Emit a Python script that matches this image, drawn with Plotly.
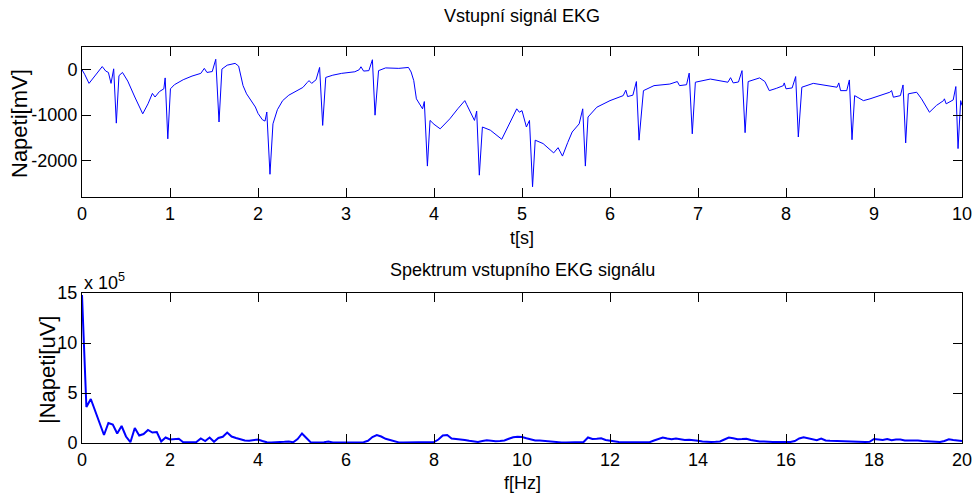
import plotly.graph_objects as go

# ---------------- data ----------------
ekg_t = [0.00, 0.03, 0.08, 0.12, 0.18, 0.23, 0.27, 0.30, 0.33, 0.36, 0.39, 0.42, 0.46, 0.52, 0.60,
         0.69, 0.75, 0.80, 0.83, 0.88, 0.93, 0.945, 0.975, 1.005, 1.05, 1.15, 1.25, 1.35, 1.39, 1.42,
         1.48, 1.52, 1.557, 1.59, 1.65, 1.74, 1.78, 1.83, 1.87, 1.93, 1.97, 2.00, 2.05, 2.08, 2.10,
         2.136, 2.17, 2.22, 2.28, 2.35, 2.45, 2.51, 2.56, 2.58, 2.61, 2.66, 2.70, 2.735, 2.77, 2.85,
         2.95, 3.10, 3.15, 3.17, 3.20, 3.26, 3.30, 3.33, 3.37, 3.45, 3.60, 3.71, 3.74, 3.77, 3.80,
         3.86, 3.87, 3.89, 3.925, 3.955, 4.00, 4.07, 4.18, 4.27, 4.35, 4.37, 4.46, 4.485, 4.515, 4.55,
         4.64, 4.77, 4.85, 4.94, 4.97, 5.00, 5.05, 5.085, 5.12, 5.15, 5.24, 5.36, 5.41, 5.46, 5.52,
         5.57, 5.65, 5.69, 5.72, 5.75, 5.85, 6.00, 6.15, 6.18, 6.20, 6.26, 6.30, 6.33, 6.38, 6.50,
         6.68, 6.765, 6.79, 6.87, 6.90, 6.935, 6.97, 7.14, 7.34, 7.37, 7.40, 7.46, 7.50, 7.535, 7.57,
         7.70, 7.76, 7.81, 7.89, 7.97, 7.98, 8.00, 8.07, 8.11, 8.14, 8.18, 8.31, 8.58, 8.60, 8.62,
         8.69, 8.72, 8.75, 8.78, 8.88, 8.955, 9.18, 9.20, 9.22, 9.30, 9.33, 9.36, 9.39, 9.485, 9.54,
         9.63, 9.71, 9.79, 9.80, 9.82, 9.90, 9.93, 9.955, 9.985, 10.0]
ekg_mv = [0, -100, -300, -200, -60, 70, -30, -60, -300, 20, -1175, -130, -60, -250, -600,
          -970, -750, -520, -600, -480, -420, -180, -1520, -420, -330, -220, -140, -80, 30, -60,
          -40, 230, -1150, 15, 100, 140, 80, -350, -530, -700, -820, -960, -1100, -1130, -930,
          -2300, -1190, -880, -680, -560, -450, -390, -280, -240, -300, -220, 50, -1225, -170, -120,
          -80, -45, 0, 65, -30, -20, 220, -1000, -20, 40, 30, 50, -50, -240, -640,
          -825, -860, -700, -2120, -1115, -1200, -1300, -1080, -860, -680, -760, -1115, -910, -2320, -1260,
          -1330, -1530, -1200, -860, -935, -900, -1260, -1115, -2575, -1550, -1625, -1830, -1715, -1900, -1600,
          -1370, -1190, -860, -2120, -1040, -825, -680, -570, -450, -590, -560, -260, -1550, -460, -350,
          -315, -260, -350, -330, -75, -1410, -275, -205, -275, -175, -290, -270, -20, -1385, -260,
          -180, -260, -460, -410, -350, -290, -420, -400, -150, -1480, -385, -300, -385, -290, -460,
          -460, -225, -1540, -570, -680, -640, -495, -460, -605, -570, -335, -1610, -530, -495, -640,
          -935, -785, -680, -640, -750, -665, -370, -1735, -680, -785]

# spectrum sampled every 0.1 Hz, 0 .. 20 Hz, in units of 1e5 uV
spec_1e5 = [
    14.8, 3.6, 4.4, 3.2, 2.1, 0.8, 2.0, 1.85, 0.95, 1.7,      # 0.0-0.9
    0.65, 0.08, 1.5, 0.75, 0.9, 1.3, 1.05, 1.1, 0.15, 0.55,   # 1.0-1.9
    0.35, 0.35, 0.42, 0.08, 0.1, 0.15, 0.1, 0.45, 0.2, 0.55,  # 2.0-2.9
    0.12, 0.5, 0.62, 1.05, 0.65, 0.5, 0.35, 0.25, 0.22, 0.25, # 3.0-3.9
    0.35, 0.2, 0.07, 0.06, 0.1, 0.15, 0.12, 0.15, 0.07, 0.4,  # 4.0-4.9
    0.95, 0.5, 0.06, 0.05, 0.05, 0.08, 0.15, 0.05, 0.05, 0.05,# 5.0-5.9
    0.06, 0.05, 0.05, 0.05, 0.08, 0.22, 0.6, 0.8, 0.65, 0.42, # 6.0-6.9
    0.3, 0.12, 0.06, 0.05, 0.05, 0.05, 0.06, 0.05, 0.06, 0.07,# 7.0-7.9
    0.1, 0.35, 0.75, 0.8, 0.45, 0.4, 0.37, 0.3, 0.22, 0.15,   # 8.0-8.9
    0.1, 0.2, 0.27, 0.22, 0.17, 0.2, 0.25, 0.42, 0.58, 0.63,  # 9.0-9.9
    0.6, 0.47, 0.35, 0.25, 0.24, 0.2, 0.12, 0.08, 0.07, 0.06, # 10.0-10.9
    0.06, 0.06, 0.07, 0.12, 0.1, 0.55, 0.4, 0.42, 0.47, 0.3,  # 11.0-11.9
    0.22, 0.17, 0.1, 0.08, 0.07, 0.06, 0.06, 0.07, 0.07, 0.08,# 12.0-12.9
    0.25, 0.42, 0.55, 0.45, 0.37, 0.45, 0.4, 0.3, 0.33, 0.3,  # 13.0-13.9
    0.23, 0.15, 0.1, 0.1, 0.12, 0.15, 0.35, 0.55, 0.47, 0.38, # 14.0-14.9
    0.4, 0.43, 0.3, 0.2, 0.15, 0.14, 0.1, 0.1, 0.1, 0.1,      # 15.0-15.9
    0.1, 0.1, 0.2, 0.45, 0.57, 0.48, 0.4, 0.28, 0.45, 0.25,   # 16.0-16.9
    0.22, 0.2, 0.2, 0.15, 0.12, 0.1, 0.1, 0.1, 0.1, 0.12,     # 17.0-17.9
    0.4, 0.35, 0.3, 0.4, 0.28, 0.35, 0.35, 0.25, 0.27, 0.25,  # 18.0-18.9
    0.25, 0.2, 0.18, 0.15, 0.12, 0.1, 0.2, 0.37, 0.3, 0.22,   # 19.0-19.9
    0.2]                                                       # 20.0
spec_f = [i / 10 for i in range(len(spec_1e5))]
spec_uv = [v * 1e5 for v in spec_1e5]

t_ticks = list(range(0, 11))
mv_ticks = [-2000, -1000, 0]
mv_ticktext = ["-2000", "-1000", "0"]
f_ticks = list(range(0, 21, 2))
uv_ticks = [0, 5e5, 10e5, 15e5]
uv_ticktext = ["0", "5", "10", "15"]

# ---------------- figure ----------------
W, H = 974, 497
L, R = 82, 12
FONT = "Liberation Sans, Arial, sans-serif"

def py(p):  # pixel row -> paper y
    return 1 - p / H

def px(p):  # pixel col -> paper x
    return (p - L) / (W - L - R)

fig = go.Figure()
fig.add_trace(go.Scatter(x=ekg_t, y=ekg_mv, mode="lines",
                         line=dict(color="#0000FF", width=1), xaxis="x", yaxis="y",
                         hoverinfo="skip"))
fig.add_trace(go.Scatter(x=spec_f, y=spec_uv, mode="lines",
                         line=dict(color="#0000FF", width=2), xaxis="x2", yaxis="y2",
                         hoverinfo="skip"))

axis_common = dict(showline=True, linecolor="black", linewidth=1, mirror="ticks",
                   ticks="inside", ticklen=9, tickwidth=1, tickcolor="black",
                   showgrid=False, zeroline=False, automargin=False,
                   tickfont=dict(family=FONT, size=18, color="black"))

fig.update_layout(
    width=W, height=H,
    margin=dict(l=L, r=R, t=0, b=0, pad=0, autoexpand=False),
    paper_bgcolor="white", plot_bgcolor="white",
    showlegend=False,
    xaxis=dict(domain=[0, 1], anchor="y", range=[0, 10], tickvals=t_ticks, **axis_common),
    yaxis=dict(domain=[py(197), py(47)], anchor="x", range=[-2800, 500],
               tickvals=mv_ticks, ticktext=mv_ticktext, **axis_common),
    xaxis2=dict(domain=[0, 1], anchor="y2", range=[0, 20], tickvals=f_ticks, **axis_common),
    yaxis2=dict(domain=[py(443), py(293)], anchor="x2", range=[0, 15e5],
                tickvals=uv_ticks, ticktext=uv_ticktext, **axis_common),
)

def ann(text, x, y, size=18, angle=0, xanchor="center", yanchor="middle"):
    fig.add_annotation(text=text, x=x, y=y, xref="paper", yref="paper",
                       showarrow=False, textangle=angle, xanchor=xanchor, yanchor=yanchor,
                       font=dict(family=FONT, size=size, color="black"))

ann("Vstupní signál EKG", 0.5, py(16), size=18)
ann("t[s]", 0.5, py(238))
ann("Napeti[mV]", px(20), py(124), size=22, angle=-90)
ann("Spektrum vstupního EKG signálu", 0.5, py(270), size=18)
ann("f[Hz]", 0.5, py(483))
ann("|Napeti[uV]", px(47), py(370), size=22, angle=-90)
ann("x 10<sup>5</sup>", px(82), py(281), size=18, xanchor="left")

fig.write_html("out.html", config={"displayModeBar": False})
